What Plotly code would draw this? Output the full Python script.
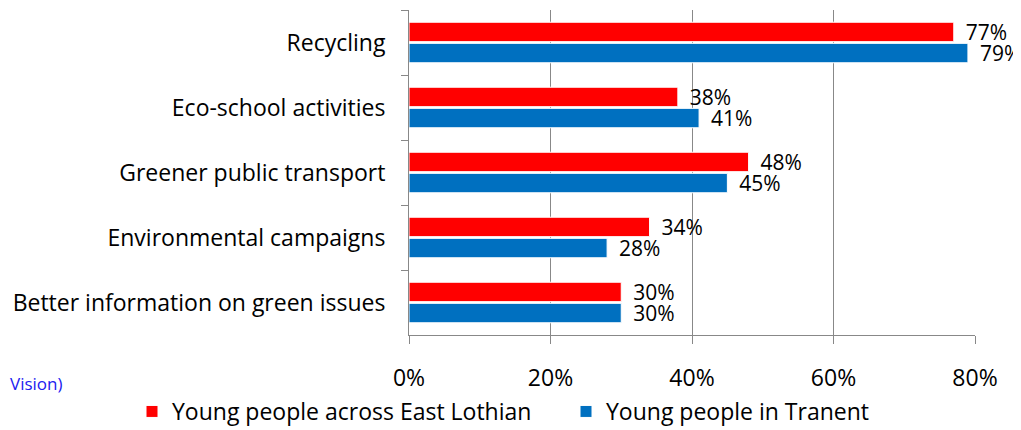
import plotly.graph_objects as go

categories = ["Recycling", "Eco-school activities", "Greener public transport",
              "Environmental campaigns", "Better information on green issues"]
east_lothian = [0.77, 0.38, 0.48, 0.34, 0.30]
tranent = [0.79, 0.41, 0.45, 0.28, 0.30]
series_names = ["Young people across East Lothian", "Young people in Tranent"]
x_ticks = [0, 0.2, 0.4, 0.6, 0.8]
x_tick_labels = ["0%", "20%", "40%", "60%", "80%"]

FONT = "Open Sans"
# page has an 8px default body margin, so the figure is 8px smaller
W, H = 1013, 422
L, R, T, B = 401, 46, 2, 95
pw = W - L - R
ph = H - T - B

fig = go.Figure()
for name, vals, col in [(series_names[0], east_lothian, "#FF0000"),
                        (series_names[1], tranent, "#0070C0")]:
    fig.add_trace(go.Bar(
        y=categories, x=vals, name=name, orientation="h",
        marker=dict(color=col, line=dict(color="white", width=1)),
        text=[f"\u00a0\u2009{round(v*100)}%" for v in vals], textposition="outside",
        constraintext="none",
        textfont=dict(size=21, color="black", family=FONT),
        cliponaxis=False,
    ))

fig.update_layout(
    width=W, height=H,
    margin=dict(l=L, r=R, t=T, b=B, autoexpand=False),
    paper_bgcolor="white", plot_bgcolor="white",
    barmode="group", bargap=0.35, bargroupgap=0.08,
    font=dict(family=FONT, color="black", size=21),
    showlegend=True,
    legend=dict(orientation="h", x=(124 - L) / pw, xanchor="left",
                y=(327 - 382) / ph, yanchor="top",
                font=dict(size=23, family=FONT),
                entrywidth=389, entrywidthmode="pixels",
                traceorder="normal", itemwidth=30, tracegroupgap=0),
    xaxis=dict(range=[0, 0.8], tickvals=x_ticks, ticktext=x_tick_labels,
               showgrid=True, gridcolor="#888888", gridwidth=1,
               ticks="outside", ticklen=8, tickcolor="#888888",
               showline=True, linecolor="#888888", linewidth=1,
               zeroline=False, ticklabelstandoff=14,
               tickfont=dict(size=23, family=FONT)),
    yaxis=dict(autorange="reversed", tickson="boundaries",
               ticks="outside", ticklen=7, tickcolor="#888888",
               showline=True, linecolor="#888888", linewidth=1,
               showgrid=False, ticklabelstandoff=18,
               tickfont=dict(size=23, family=FONT)),
)

fig.add_annotation(text="Vision)", x=(0 - L) / pw, y=(H - B - 375) / ph,
                   xref="paper", yref="paper", xanchor="left", yanchor="middle",
                   showarrow=False, font=dict(size=17, color="#2020F0", family=FONT))

fig.write_html("out.html")
